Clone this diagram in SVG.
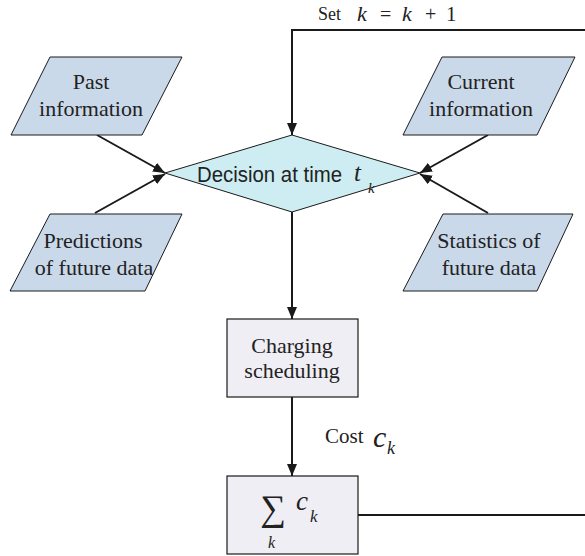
<svg xmlns="http://www.w3.org/2000/svg" width="585" height="556" viewBox="0 0 585 556">
<defs>
<marker id="ah" viewBox="0 0 12 10" refX="12" refY="5" markerWidth="12" markerHeight="10" markerUnits="userSpaceOnUse" orient="auto">
<path d="M0,0 L12,5 L0,10 Z" fill="#1a1a1a"/>
</marker>
<style>
.para{fill:#c9d9ea;stroke:#1a1a1a;stroke-width:1}
.box{fill:#efeef4;stroke:#1a1a1a;stroke-width:1.2}
.dia{fill:#cdedf2;stroke:#1a1a1a;stroke-width:1}
.t{font-family:'Liberation Serif','Times New Roman',serif;font-size:22px;fill:#222;text-anchor:middle}
.s{font-family:'Liberation Serif','Times New Roman',serif;fill:#222}
.m{font-family:'Liberation Serif','Times New Roman',serif;font-style:italic;fill:#222}
.c{stroke:#1a1a1a;stroke-width:2;fill:none}
.ca{stroke:#1a1a1a;stroke-width:2;fill:none;marker-end:url(#ah)}
</style>
</defs>
<g id="connectors">
<path class="ca" d="M585,30 H292 V135"/>
<path class="ca" d="M97,135 L165,173"/>
<path class="ca" d="M95,213 L165,174"/>
<path class="ca" d="M488,135 L420,173"/>
<path class="ca" d="M488,213 L420,174"/>
<path class="ca" d="M292,212 V319"/>
<path class="ca" d="M292,397 V476"/>
<path class="c" d="M358,515 H585"/>
</g>
<g id="label-set">
<text x="318" y="20" class="s" font-size="18">Set</text>
<text x="357" y="21" class="m" font-size="22">k</text>
<text x="380" y="21" class="s" font-size="20">=</text>
<text x="402" y="21" class="m" font-size="22">k</text>
<text x="425" y="21" class="s" font-size="20">+</text>
<text x="446" y="21" class="s" font-size="21">1</text>
</g>
<g id="past">
<polygon class="para" points="50,57 182,57 142,135 11,135"/>
<text class="t" x="91" y="89">Past</text>
<text class="t" x="91" y="116">information</text>
</g>
<g id="current">
<polygon class="para" points="442,57 575,57 537,135 403,135"/>
<text class="t" x="481" y="89">Current</text>
<text class="t" x="481" y="116">information</text>
</g>
<g id="predictions">
<polygon class="para" points="50,214 182,214 145,291 10,291"/>
<text class="t" x="93" y="248">Predictions</text>
<text class="t" x="94" y="275">of future data</text>
</g>
<g id="statistics">
<polygon class="para" points="443,214 573,214 537,291 403,291"/>
<text class="t" x="489" y="248">Statistics of</text>
<text class="t" x="489" y="275">future data</text>
</g>
<g id="decision">
<polygon class="dia" points="165,173 292,135 420,173 292,212"/>
<text x="197" y="182" font-family="'Liberation Sans',Arial,sans-serif" font-size="22" fill="#222" textLength="145" lengthAdjust="spacingAndGlyphs">Decision at time</text>
<text x="354" y="181" class="m" font-size="25">t</text>
<text x="368" y="193" class="m" font-size="15">k</text>
</g>
<g id="charging">
<rect class="box" x="227" y="319" width="131" height="78"/>
<text class="t" x="292" y="353">Charging</text>
<text class="t" x="292" y="378">scheduling</text>
</g>
<g id="label-cost">
<text x="325" y="443" class="s" font-size="21">Cost</text>
<text x="373" y="447" class="m" font-size="30">c</text>
<text x="387" y="454" class="m" font-size="18">k</text>
</g>
<g id="sum">
<rect class="box" x="227" y="476" width="131" height="78"/>
<text x="273" y="520" class="s" font-size="36" text-anchor="middle">∑</text>
<text x="268" y="548" class="m" font-size="16">k</text>
<text x="296" y="510" class="m" font-size="27">c</text>
<text x="310" y="522" class="m" font-size="17">k</text>
</g>
</svg>
